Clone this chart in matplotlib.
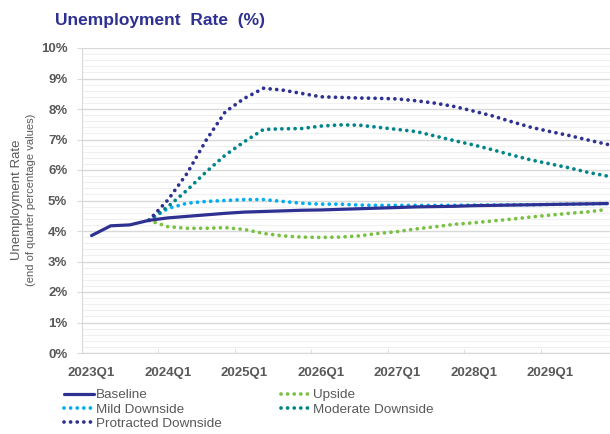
import matplotlib.pyplot as plt
import numpy as np

# quarters 2023Q1 .. 2029Q4
quarters = [f"{y}Q{q}" for y in range(2023, 2030) for q in range(1, 5)]
tick_labels = ["2023Q1", "2024Q1", "2025Q1", "2026Q1", "2027Q1", "2028Q1", "2029Q1"]

baseline = [3.85, 4.17, 4.20, 4.35, 4.43, 4.48, 4.53, 4.58, 4.62, 4.64, 4.66, 4.68,
            4.69, 4.71, 4.73, 4.75, 4.77, 4.79, 4.80, 4.81, 4.83, 4.84, 4.85, 4.86,
            4.87, 4.88, 4.89, 4.90]
upside = [None, None, None, 4.35, 4.14, 4.09, 4.09, 4.11, 4.05, 3.92, 3.84, 3.80,
          3.79, 3.80, 3.84, 3.92, 3.98, 4.07, 4.14, 4.22, 4.27, 4.33, 4.39, 4.46,
          4.52, 4.58, 4.63, 4.71]
mild = [None, None, None, 4.35, 4.74, 4.91, 4.97, 5.00, 5.03, 5.03, 4.97, 4.91,
        4.88, 4.88, 4.85, 4.84, 4.84, 4.84, 4.84, 4.84, 4.85, 4.85, 4.86, 4.86,
        4.87, 4.88, 4.89, 4.90]
moderate = [None, None, None, 4.35, 4.80, 5.34, 5.94, 6.49, 6.93, 7.33, 7.35, 7.36,
            7.44, 7.48, 7.47, 7.40, 7.33, 7.26, 7.11, 6.96, 6.82, 6.66, 6.49, 6.33,
            6.20, 6.07, 5.92, 5.80]
protracted = [None, None, None, 4.35, 5.02, 5.89, 6.98, 7.91, 8.35, 8.68, 8.62, 8.51,
              8.40, 8.38, 8.36, 8.35, 8.33, 8.27, 8.19, 8.08, 7.93, 7.77, 7.58, 7.40,
              7.26, 7.13, 6.98, 6.84]

navy = '#2E3192'
grey = '#595959'
plt.rcParams['font.family'] = ['Liberation Sans', 'DejaVu Sans']

fig = plt.figure(figsize=(6.1, 4.34), dpi=100)
ax = fig.add_axes([82/610, 81/434, 535/610, 305/434])

x = np.arange(len(quarters))
def arr(v):
    return np.array([np.nan if a is None else a for a in v], dtype=float)

dot = (0, (0.01, 1.75))
h_base, = ax.plot(x, arr(baseline), color=navy, lw=2.3, solid_capstyle='round', zorder=5)
h_up, = ax.plot(x, arr(upside), color='#7AC143', lw=2.7, ls=dot, dash_capstyle='round')
h_mild, = ax.plot(x, arr(mild), color='#00AEEF', lw=2.7, ls=dot, dash_capstyle='round')
h_mod, = ax.plot(x, arr(moderate), color='#00858A', lw=2.7, ls=dot, dash_capstyle='round')
h_pro, = ax.plot(x, arr(protracted), color=navy, lw=2.7, ls=dot, dash_capstyle='round')

ax.set_ylim(0, 10)
ax.set_xlim(-0.5, 27.5)
ax.set_yticks(np.arange(0, 11, 1))
ax.set_yticklabels([f"{v}%" for v in range(11)])
ax.set_yticks(np.arange(0, 10.01, 0.2), minor=True)
ax.grid(axis='y', which='major', color='#D9D9D9', lw=1.0)
ax.grid(axis='y', which='minor', color='#F0F0F0', lw=0.8)
ax.set_axisbelow(True)

ax.set_xticks(np.arange(0, 28, 4))
ax.set_xticklabels(tick_labels)
ax.set_xticks(np.arange(-0.5, 28, 4), minor=True)
ax.tick_params(axis='x', which='major', length=0, pad=10, labelsize=9.5, labelcolor=grey)
ax.tick_params(axis='x', which='minor', direction='in', length=3, color='#D9D9D9')
ax.tick_params(axis='y', which='major', length=3.6, pad=7, color='#D9D9D9', labelsize=9.5, labelcolor=grey)
ax.tick_params(axis='y', which='minor', length=0)
for lab in ax.get_xticklabels() + ax.get_yticklabels():
    lab.set_fontweight('bold')

for s in ['top', 'right']:
    ax.spines[s].set_visible(False)
ax.spines['left'].set_color('#D9D9D9')
ax.spines['bottom'].set_color('#D9D9D9')

fig.text(55/610, 1 - 20/434, "Unemployment  Rate  (%)", color=navy, fontsize=12.5,
         fontweight='bold', va='center', ha='left')
fig.text(17/610, 1 - 200/434, "Unemployment Rate", rotation=90, color=grey, fontsize=9.5,
         va='center', ha='center')
fig.text(31/610, 1 - 200/434, "(end of quarter percentage values)", rotation=90, color=grey,
         fontsize=8, va='center', ha='center')

handles = [h_base, h_mild, h_pro, h_up, h_mod]
labels = ["Baseline", "Mild Downside", "Protracted Downside", "Upside", "Moderate Downside"]
leg = fig.legend(handles, labels, ncol=2, loc='upper left', bbox_to_anchor=(64/610, 1 - 389/434),
                 frameon=False, fontsize=9.7, handlelength=2.2, handletextpad=0.2,
                 columnspacing=4.35, labelspacing=0.13, borderaxespad=0, borderpad=0)
for t in leg.get_texts():
    t.set_color(grey)

fig.savefig('out.png', dpi=100)
